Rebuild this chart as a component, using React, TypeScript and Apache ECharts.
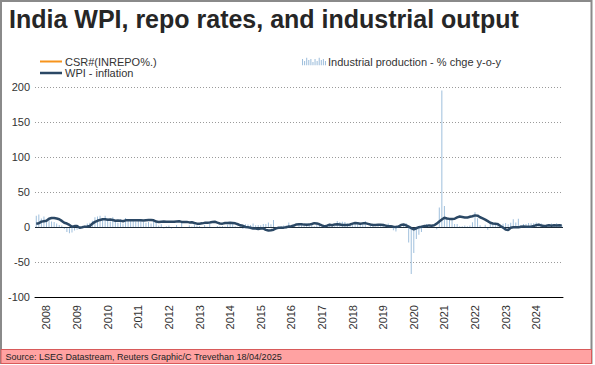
import React, { useEffect, useRef } from "react";
import * as echarts from "echarts";

const startYear = 2008;
const monthCount = 207; // Jan 2008 .. Mar 2025
const categories: string[] = [];
for (let i = 0; i < monthCount; i++) {
  const y = startYear + Math.floor(i / 12);
  const m = (i % 12) + 1;
  categories.push(`${y}-${String(m).padStart(2, "0")}`);
}

const yTicks = [-100, -50, 0, 50, 100, 150, 200];

const repoRate: number[] = [];

// WPI inflation, % y/y, monthly
const wpiInflation: number[] = [
  4.7, 5.4, 7.7, 8.3, 8.8, 11.7, 12.9, 12.8, 12.1, 11.1, 8.7, 6.0,
  4.9, 3.0, 0.3, 1.3, 1.4, -1.0, -0.3, 0.5, 0.7, 1.5, 4.8, 7.3,
  8.9, 10.1, 11.0, 11.2, 10.5, 10.6, 10.0, 8.9, 9.2, 9.1, 8.2, 9.5,
  9.5, 9.5, 9.7, 9.7, 9.6, 9.5, 9.4, 9.8, 10.0, 9.9, 9.5, 7.7,
  7.2, 7.6, 7.7, 7.5, 7.6, 7.6, 7.5, 8.0, 8.1, 7.3, 7.2, 7.3,
  6.6, 6.8, 5.7, 4.8, 4.7, 5.2, 5.9, 6.1, 6.5, 7.0, 7.5, 6.2,
  5.0, 4.8, 5.7, 5.6, 6.2, 5.7, 5.2, 3.9, 2.4, 1.7, 0.0, -0.5,
  -1.0, -2.2, -2.3, -2.7, -2.2, -2.1, -4.1, -5.1, -4.6, -3.8, -2.0, -1.1,
  -1.1, -0.9, -0.5, 0.8, 1.2, 2.1, 3.7, 3.9, 3.8, 3.4, 3.2, 3.4,
  4.3, 5.5, 5.1, 3.9, 2.3, 0.9, 1.9, 3.2, 2.6, 3.7, 4.0, 3.6,
  3.0, 2.7, 2.7, 3.6, 4.8, 5.7, 5.3, 4.6, 5.2, 5.5, 4.5, 3.5,
  2.8, 2.9, 3.1, 3.2, 2.8, 2.0, 1.2, 1.2, 0.3, 0.0, 0.6, 2.8,
  3.5, 2.3, 0.4, -1.6, -3.4, -1.8, -0.3, 0.4, 1.3, 1.5, 2.3, 1.9,
  2.5, 4.8, 7.9, 10.7, 13.1, 12.1, 11.6, 11.6, 11.8, 13.8, 14.9, 14.3,
  13.7, 13.4, 14.6, 15.4, 16.6, 16.2, 13.9, 12.4, 10.6, 8.4, 6.1, 5.0,
  4.8, 3.9, 1.4, -0.8, -3.6, -4.2, -1.2, -0.5, -0.3, -0.5, 0.4, 0.9,
  0.3, 0.2, 0.5, 1.3, 2.6, 3.4, 2.0, 1.3, 1.8, 2.4, 1.9, 2.4,
  2.3, 2.4, 2.1,
];

// Industrial production, % change y/y, monthly
const industrialProduction: number[] = [
  16, 18, 12, 15, 9, 10, 8, 7, 5, 3, 2, -3,
  -7, -9, -8, -5, -4, -2, 1, 2, 5, 6, 9, 14,
  15, 16, 13, 16, 12, 8, 14, 7, 6, 11, 5, 13,
  10, 9, 11, 8, 9, 10, 7, 6, 7, 5, 9, 8,
  2, 4, -2, 1, 2, -2, 0, 3, -1, 8, -1, 0,
  2.5, 0.6, 3.5, 2.0, 1.4, -1.8, 2.8, 0.4, 4.3, -0.6, -1.6, 1.5,
  1.0, 1.5, 0.8, 3.2, 5.0, 4.3, 0.9, 0.4, 2.6, -2.7, 3.8, 3.6,
  2.8, 5.0, 2.5, 3.0, 2.5, 4.4, 4.3, 6.3, 3.8, 9.9, -3.4, -1.2,
  1.5, 2.0, 2.5, 6.5, 1.2, 1.9, -0.2, 4.0, 5.0, 4.0, 5.1, 2.4,
  3.5, 1.2, 4.4, 3.2, 2.9, -0.3, 1.0, 4.8, 4.1, 2.0, 8.5, 7.3,
  7.5, 7.0, 5.3, 4.5, 3.8, 7.0, 6.5, 4.8, 4.6, 8.4, 0.2, 2.5,
  1.6, 0.2, 2.7, 4.3, 4.6, 1.3, 4.9, -1.4, -4.6, -6.6, 2.1, 0.4,
  2.2, 5.2, -22, -67, -37, -17, -11, -7.1, 0.5, 4.2, -1.6, 1.6,
  -0.9, -3.2, 28, 195, 30, 13.8, 11.5, 13.0, 4.4, 4.2, 1.0, 1.0,
  2.0, 1.2, 2.2, 6.7, 21, 12.6, 2.4, -0.7, 3.3, -4.1, 7.6, 5.1,
  5.2, 6.0, 1.9, 4.6, 5.7, 4.0, 6.2, 10.9, 6.4, 11.9, 2.5, 4.4,
  4.2, 5.6, 5.5, 5.2, 6.3, 4.9, 5.0, -0.1, 3.2, 3.7, 5.0, 3.5,
  5.2, 2.9, 3.0,
];

const FONT = "'Liberation Sans', Arial, sans-serif";
const barIcon =
  "path://M0,8V2h1v6zM2,8V4h1v4zM4,8V1h1v7zM6,8V3h1v5zM8,8V2h1v6zM10,8V5h1v3zM12,8V2h1v6zM14,8V4h1v4zM16,8V1h1v7zM18,8V3h1v5zM20,8V2h1v6zM22,8V4h1v4z";

export default function App() {
  const ref = useRef<HTMLDivElement>(null);
  useEffect(() => {
    if (!ref.current) return;
    const chart = echarts.init(ref.current, undefined, { renderer: "svg" });
    chart.setOption({
      animation: false,
      backgroundColor: "#ffffff",
      textStyle: { fontFamily: FONT },
      title: {
        text: "India WPI, repo rates, and industrial output",
        left: 9,
        top: 3.5,
        padding: 0,
        textStyle: {
          fontFamily: FONT,
          fontSize: 25,
          fontWeight: "bold",
          color: "#262626",
          lineHeight: 30,
        },
      },
      legend: [
        {
          left: 40,
          top: 55.5,
          padding: 0,
          itemWidth: 22,
          itemHeight: 2,
          itemGap: 0,
          icon: "rect",
          data: ["CSR#(INREPO%.)"],
          textStyle: { fontFamily: FONT, fontSize: 11, color: "#333", lineHeight: 12, padding: [0, 0, 0, -2] },
        },
        {
          left: 40,
          top: 67,
          padding: 0,
          itemWidth: 22,
          itemHeight: 2.5,
          icon: "rect",
          data: ["WPI - inflation"],
          textStyle: { fontFamily: FONT, fontSize: 11, color: "#333", lineHeight: 12, padding: [0, 0, 0, -2] },
        },
        {
          left: 302,
          top: 55.5,
          padding: 0,
          itemWidth: 24,
          itemHeight: 8,
          icon: barIcon,
          data: ["Industrial production - % chge y-o-y"],
          textStyle: { fontFamily: FONT, fontSize: 11, color: "#333", lineHeight: 12, padding: [0, 0, 0, -3] },
        },
      ],
      grid: { left: 35, right: 32, top: 87, bottom: 68, containLabel: false },
      xAxis: [
        {
          type: "category",
          data: categories,
          boundaryGap: true,
          axisLine: { onZero: false, lineStyle: { color: "#000", width: 1 } },
          axisTick: {
            interval: (i: number) => i % 12 === 0,
            length: 4,
            lineStyle: { color: "#000" },
          },
          axisLabel: {
            interval: (i: number) => i % 12 === 4,
            formatter: (v: string) => v.slice(0, 4),
            rotate: 90,
            margin: 8,
            fontFamily: FONT,
            fontSize: 11,
            color: "#333",
          },
          splitLine: { show: false },
        },
        {
          type: "category",
          data: categories,
          boundaryGap: true,
          position: "bottom",
          axisLine: { show: false, onZero: false },
          axisTick: {
            interval: (i: number) => i % 3 === 0,
            length: 2,
            lineStyle: { color: "#000" },
          },
          axisLabel: { show: false },
          splitLine: { show: false },
        },
      ],
      yAxis: {
        type: "value",
        min: yTicks[0],
        max: yTicks[yTicks.length - 1],
        interval: 50,
        axisLine: { show: false },
        axisTick: { show: false },
        axisLabel: { margin: 5, fontFamily: FONT, fontSize: 11, color: "#333" },
        splitLine: { lineStyle: { color: "#9a9a9a", type: [1, 2], width: 1 } },
      },
      series: [
        {
          name: "Industrial production - % chge y-o-y",
          type: "bar",
          data: industrialProduction,
          barWidth: 1,
          itemStyle: { color: "#9fbfdc" },
          markLine: {
            silent: true,
            symbol: "none",
            label: { show: false },
            lineStyle: { color: "#1c2a38", width: 1, type: "solid" },
            data: [{ yAxis: 0 }],
          },
          z: 2,
        },
        {
          name: "CSR#(INREPO%.)",
          type: "line",
          data: repoRate,
          color: "#f7941d",
          showSymbol: false,
          lineStyle: { color: "#f7941d", width: 2 },
        },
        {
          name: "WPI - inflation",
          type: "line",
          data: wpiInflation,
          color: "#2b4865",
          showSymbol: false,
          lineStyle: { color: "#2b4865", width: 2.5 },
          z: 5,
        },
      ],
      graphic: [
        {
          type: "rect",
          shape: { x: 1, y: 1, width: 590.5, height: 362 },
          style: { fill: "none", stroke: "#8a8a8a", lineWidth: 2 },
          silent: true,
          z: 0,
        },
        {
          type: "rect",
          shape: { x: 1, y: 349.5, width: 590.5, height: 14 },
          style: { fill: "#ffa2a2", stroke: "#d85a5a", lineWidth: 1 },
          silent: true,
          z: 1,
        },
        {
          type: "text",
          x: 5.5,
          y: 357,
          style: {
            text: "Source: LSEG Datastream, Reuters Graphic/C Trevethan 18/04/2025",
            fontFamily: FONT,
            fontSize: 9,
            fill: "#222",
            verticalAlign: "middle",
          },
          silent: true,
          z: 2,
        },
      ],
    });
    return () => chart.dispose();
  }, []);
  return (
    <div
      ref={ref}
      style={{ position: "fixed", left: 0, top: 0, width: 595, height: 365 }}
    />
  );
}
